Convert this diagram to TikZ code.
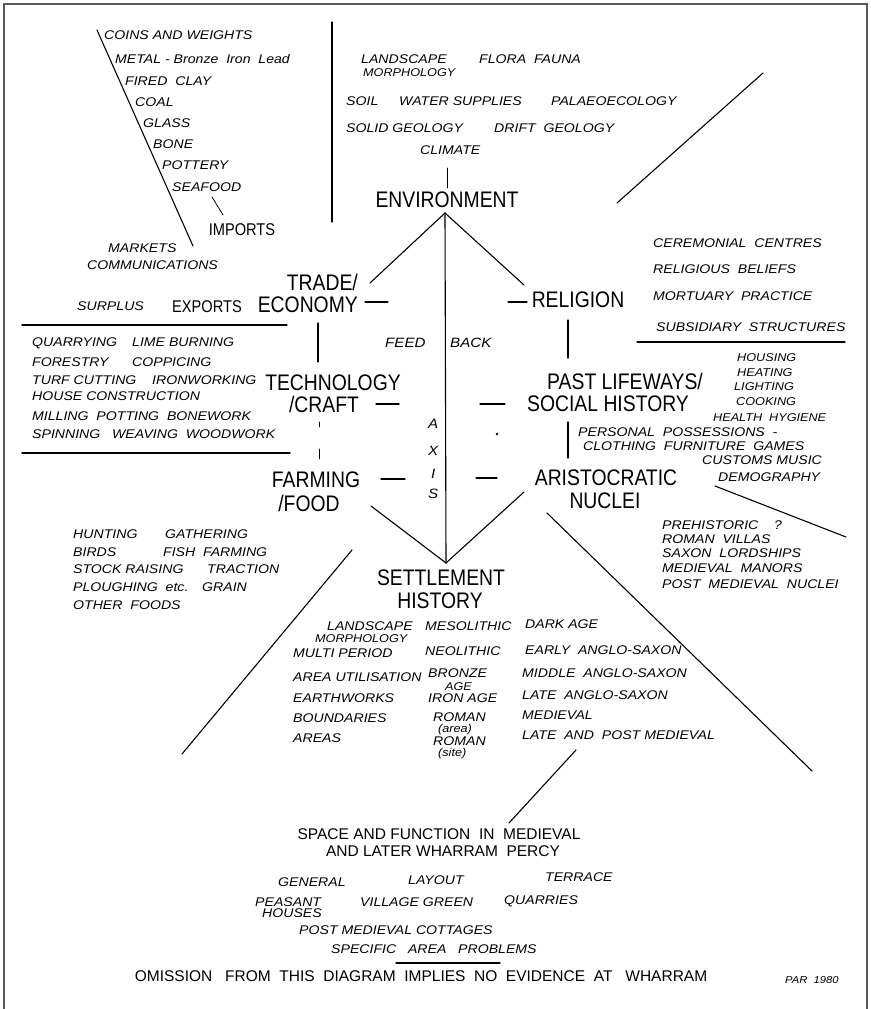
\documentclass[tikz,border=0pt]{standalone}
\usepackage{fontspec}
\setmainfont{Liberation Sans}
\newfontfamily\hfont[FakeStretch=0.86]{Liberation Sans}
\newfontfamily\lfont[FakeStretch=1.12]{Liberation Sans}
\begin{document}
\begin{tikzpicture}[x=1pt,y=-1pt,
  head/.style={font=\hfont\fontsize{22.5}{22.5}\selectfont, inner sep=0pt, text height=16pt, text depth=0pt},
  mid/.style={font=\hfont\fontsize{17}{17}\selectfont, inner sep=0pt, text height=12pt, text depth=0pt},
  sub/.style={font=\fontsize{15.5}{15.5}\selectfont, inner sep=0pt, text height=11pt, text depth=0pt},
  lst/.style={font=\lfont\itshape\fontsize{12.6}{12.6}\selectfont, inner sep=0pt, text height=9pt, text depth=0pt, anchor=west},
  lsts/.style={lst, font=\lfont\itshape\fontsize{11.3}{11.3}\selectfont, text height=8pt},
  big/.style={lst, font=\lfont\itshape\fontsize{13.5}{13.5}\selectfont, text height=10pt},
  ln/.style={line width=1.1pt, line cap=round},
  frame/.style={line width=1.6pt, draw=black!65}]
\useasboundingbox (0,0) rectangle (870,1009);
\fill[white] (0,0) rectangle (870,1009);

% ---------- coordinates ----------
\coordinate (f1) at (4,1009); \coordinate (f2) at (4,4);
\coordinate (f3) at (867,4);  \coordinate (f4) at (867,1009);
\coordinate (tl1) at (97,30);  \coordinate (tl2) at (193,246);
\coordinate (sf1) at (212,197); \coordinate (sf2) at (223,215);
\coordinate (vt1) at (332,22); \coordinate (vt2) at (332,222);
\coordinate (cl1) at (447,168); \coordinate (cl2) at (447,188);
\coordinate (tr1) at (617,203); \coordinate (tr2) at (763,73);
\coordinate (apexT) at (445,213);
\coordinate (vL) at (370,283); \coordinate (vR) at (524,285);
\coordinate (apexB) at (446,563);
\coordinate (bL) at (371,506); \coordinate (bR) at (524,492);
\coordinate (ul1a) at (22,325); \coordinate (ul1b) at (287,325);
\coordinate (ul2a) at (22,453); \coordinate (ul2b) at (290,453);
\coordinate (ur1a) at (637,342); \coordinate (ur1b) at (845,342);
\coordinate (ec1) at (318,323); \coordinate (ec2) at (318,362);
\coordinate (re1) at (568,320); \coordinate (re2) at (568,358);
\coordinate (so1) at (568,422); \coordinate (so2) at (568,458);
\coordinate (tf1) at (319,422); \coordinate (tf2) at (319,460);
\coordinate (d1a) at (365,302); \coordinate (d1b) at (388,302);
\coordinate (d2a) at (508,302); \coordinate (d2b) at (527,302);
\coordinate (d3a) at (376,404); \coordinate (d3b) at (399,404);
\coordinate (d4a) at (480,404); \coordinate (d4b) at (505,404);
\coordinate (d5a) at (381,479); \coordinate (d5b) at (405,479);
\coordinate (d6a) at (476,478); \coordinate (d6b) at (497,478);
\coordinate (dm1) at (715,486); \coordinate (dm2) at (846,537);
\coordinate (rd1) at (547,513); \coordinate (rd2) at (812,771);
\coordinate (ld1) at (352,550); \coordinate (ld2) at (182,754);
\coordinate (sp1) at (576,750); \coordinate (sp2) at (509,823);
\coordinate (bu1) at (396,963); \coordinate (bu2) at (500,963);
\coordinate (dot) at (497,434);

% ---------- frame ----------
\draw[frame] (f1) -- (f2) -- (f3) -- (f4);

% ---------- lines ----------
\draw[ln] (tl1) -- (tl2);
\draw[ln, line width=0.8pt] (sf1) -- (sf2);
\draw[ln] (vt1) -- (vt2);
\draw[ln, line width=0.8pt] (cl1) -- (cl2);
\draw[ln] (tr1) -- (tr2);
\draw[ln] (vL) -- (apexT) -- (vR);
\draw[ln] (apexT) -- (apexB);
\draw[ln] (bL) -- (apexB) -- (bR);
\draw[ln] (ul1a) -- (ul1b);
\draw[ln] (ul2a) -- (ul2b);
\draw[ln] (ur1a) -- (ur1b);
\draw[ln] (ec1) -- (ec2);
\draw[ln] (re1) -- (re2);
\draw[ln] (so1) -- (so2);
\draw[ln, line width=0.8pt, dash pattern=on 5pt off 22pt on 10pt off 10pt] (tf1) -- (tf2);
\draw[ln] (d1a) -- (d1b);
\draw[ln] (d2a) -- (d2b);
\draw[ln] (d3a) -- (d3b);
\draw[ln] (d4a) -- (d4b);
\draw[ln] (d5a) -- (d5b);
\draw[ln] (d6a) -- (d6b);
\draw[ln] (dm1) -- (dm2);
\draw[ln] (rd1) -- (rd2);
\draw[ln] (ld1) -- (ld2);
\draw[ln] (sp1) -- (sp2);
\draw[ln] (bu1) -- (bu2);
\fill (dot) circle (1.3pt);

% ---------- headings ----------
\node[head] (env) at (447,199) {ENVIRONMENT};
\node[head, anchor=east] (trade1) at (358,282) {TRADE/};
\node[head, anchor=east] (trade2) at (358,304) {ECONOMY};
\node[head] (rel) at (578,299) {RELIGION};
\node[head] (past1) at (625,381) {PAST LIFEWAYS/};
\node[head] (past2) at (608,403) {SOCIAL HISTORY};
\node[head] (tech1) at (333,382) {TECHNOLOGY};
\node[head] (tech2) at (324,404) {/CRAFT};
\node[head] (farm1) at (316,479) {FARMING};
\node[head] (farm2) at (309,503) {/FOOD};
\node[head] (ari1) at (606,477) {ARISTOCRATIC};
\node[head] (ari2) at (605,500) {NUCLEI};
\node[head] (set1) at (441,577) {SETTLEMENT};
\node[head] (set2) at (440,600) {HISTORY};
\node[mid] (imp) at (242,229) {IMPORTS};
\node[mid] (exp) at (207,306) {EXPORTS};

% ---------- top left ----------
\node[lst] (tl-a) at (104,35) {COINS AND WEIGHTS};
\node[lst] (tl-b) at (115,59) {METAL - Bronze\ \ Iron\ \ Lead};
\node[lst] (tl-c) at (125,81) {FIRED\ \ CLAY};
\node[lst] (tl-d) at (135,102) {COAL};
\node[lst] (tl-e) at (143,123) {GLASS};
\node[lst] (tl-f) at (153,144) {BONE};
\node[lst] (tl-g) at (162,165) {POTTERY};
\node[lst] (tl-h) at (172,187) {SEAFOOD};
\node[lst] (mk) at (108,248) {MARKETS};
\node[lst] (cm) at (87,265) {COMMUNICATIONS};
\node[lst] (sur) at (77,306) {SURPLUS};

% ---------- environment list ----------
\node[lst] (en-a) at (361,59) {LANDSCAPE};
\node[lsts] (en-b) at (363,72) {MORPHOLOGY};
\node[lst] (en-c) at (479,59) {FLORA\ \ FAUNA};
\node[lst] (en-d) at (346,101) {SOIL};
\node[lst] (en-e) at (399,101) {WATER SUPPLIES};
\node[lst] (en-f) at (551,101) {PALAEOECOLOGY};
\node[lst] (en-g) at (346,128) {SOLID GEOLOGY};
\node[lst] (en-h) at (494,128) {DRIFT\ \ GEOLOGY};
\node[lst] (en-i) at (420,150) {CLIMATE};

% ---------- religion list ----------
\node[lst] (re-a) at (653,243) {CEREMONIAL\ \ CENTRES};
\node[lst] (re-b) at (653,269) {RELIGIOUS\ \ BELIEFS};
\node[lst] (re-c) at (653,296) {MORTUARY\ \ PRACTICE};
\node[lst] (re-d) at (656,327) {SUBSIDIARY\ \ STRUCTURES};

% ---------- lifeways list ----------
\node[lsts] (pl-a) at (737,357) {HOUSING};
\node[lsts] (pl-b) at (737,372) {HEATING};
\node[lsts] (pl-c) at (734,386) {LIGHTING};
\node[lsts] (pl-d) at (736,401) {COOKING};
\node[lsts] (pl-e) at (713,417) {HEALTH\ \ HYGIENE};
\node[lst] (pl-f) at (578,432) {PERSONAL\ \ POSSESSIONS\ \ -};
\node[lst] (pl-g) at (583,446) {CLOTHING\ \ FURNITURE\ \ GAMES};
\node[lst] (pl-h) at (702,460) {CUSTOMS MUSIC};
\node[lst] (pl-i) at (718,477) {DEMOGRAPHY};

% ---------- aristocratic list ----------
\node[lst] (an-a) at (662,525) {PREHISTORIC\ \ \ \ ?};
\node[lst] (an-b) at (662,539) {ROMAN\ \ VILLAS};
\node[lst] (an-c) at (662,553) {SAXON\ \ LORDSHIPS};
\node[lst] (an-d) at (662,568) {MEDIEVAL\ \ MANORS};
\node[lst] (an-e) at (662,584) {POST\ \ MEDIEVAL\ \ NUCLEI};

% ---------- technology list ----------
\node[lst] (te-a) at (32,342) {QUARRYING};
\node[lst] (te-b) at (132,342) {LIME BURNING};
\node[lst] (te-c) at (32,362) {FORESTRY};
\node[lst] (te-d) at (132,362) {COPPICING};
\node[lst] (te-e) at (32,380) {TURF CUTTING};
\node[lst] (te-f) at (152,380) {IRONWORKING};
\node[lst] (te-g) at (32,396) {HOUSE CONSTRUCTION};
\node[lst] (te-h) at (32,416) {MILLING\ \ POTTING\ \ BONEWORK};
\node[lst] (te-i) at (32,434) {SPINNING\ \ \ WEAVING\ \ WOODWORK};

% ---------- farming list ----------
\node[lst] (fa-a) at (73,534) {HUNTING};
\node[lst] (fa-b) at (165,534) {GATHERING};
\node[lst] (fa-c) at (73,552) {BIRDS};
\node[lst] (fa-d) at (163,552) {FISH\ \ FARMING};
\node[lst] (fa-e) at (73,569) {STOCK RAISING};
\node[lst] (fa-f) at (207,569) {TRACTION};
\node[lst] (fa-g) at (73,587) {PLOUGHING\ \ etc.};
\node[lst] (fa-h) at (202,587) {GRAIN};
\node[lst] (fa-i) at (73,605) {OTHER\ \ FOODS};

% ---------- feed back / axis ----------
\node[big] (feed) at (385,342) {FEED};
\node[big] (back) at (450,342) {BACK};
\node[big] (ax-a) at (428,423) {A};
\node[big] (ax-x) at (428,450) {X};
\node[big] (ax-i) at (431,473) {I};
\node[big] (ax-s) at (428,493) {S};

% ---------- settlement list ----------
\node[lst] (se-a) at (327,626) {LANDSCAPE};
\node[lsts] (se-b) at (315,638) {MORPHOLOGY};
\node[lst] (se-c) at (293,653) {MULTI PERIOD};
\node[lst] (se-d) at (293,677) {AREA UTILISATION};
\node[lst] (se-e) at (293,698) {EARTHWORKS};
\node[lst] (se-f) at (293,718) {BOUNDARIES};
\node[lst] (se-g) at (293,738) {AREAS};
\node[lst] (se-h) at (425,626) {MESOLITHIC};
\node[lst] (se-i) at (425,651) {NEOLITHIC};
\node[lst] (se-j) at (428,673) {BRONZE};
\node[lsts] (se-k) at (445,686) {AGE};
\node[lst] (se-l) at (428,698) {IRON AGE};
\node[lst] (se-m) at (433,717) {ROMAN};
\node[lsts] (se-n) at (438,728) {(area)};
\node[lst] (se-o) at (433,741) {ROMAN};
\node[lsts] (se-p) at (438,752) {(site)};
\node[lst] (se-q) at (525,624) {DARK AGE};
\node[lst] (se-r) at (525,650) {EARLY\ \ ANGLO-SAXON};
\node[lst] (se-s) at (522,673) {MIDDLE\ \ ANGLO-SAXON};
\node[lst] (se-t) at (522,695) {LATE\ \ ANGLO-SAXON};
\node[lst] (se-u) at (522,715) {MEDIEVAL};
\node[lst] (se-v) at (522,735) {LATE\ \ AND\ \ POST MEDIEVAL};

% ---------- wharram percy ----------
\node[sub] (wp1) at (439,834) {SPACE AND FUNCTION\ \ IN\ \ MEDIEVAL};
\node[sub] (wp2) at (443,851) {AND LATER WHARRAM\ \ PERCY};
\node[lst] (wp-a) at (278,882) {GENERAL};
\node[lst] (wp-b) at (408,880) {LAYOUT};
\node[lst] (wp-c) at (545,877) {TERRACE};
\node[lst] (wp-d) at (255,902) {PEASANT};
\node[lst] (wp-e) at (262,913) {HOUSES};
\node[lst] (wp-f) at (360,902) {VILLAGE GREEN};
\node[lst] (wp-g) at (504,900) {QUARRIES};
\node[lst] (wp-h) at (299,930) {POST MEDIEVAL COTTAGES};
\node[lst] (wp-i) at (331,949) {SPECIFIC\ \ \ AREA\ \ \ PROBLEMS};
\node[sub] (om) at (421,976) {OMISSION\ \ \ FROM\ \ THIS\ \ DIAGRAM\ \ IMPLIES\ \ NO\ \ EVIDENCE\ \ AT\ \ \ WHARRAM};
\node[lst, font=\lfont\itshape\fontsize{10}{10}\selectfont, text height=7pt] (par) at (785,980) {PAR\ \ 1980};
\end{tikzpicture}
\end{document}
